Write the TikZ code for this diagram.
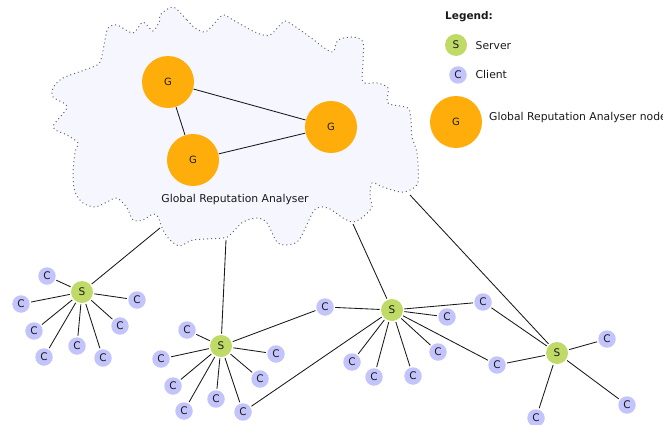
\documentclass[tikz,border=0pt]{standalone}
\usepackage{fontspec}
\setmainfont{DejaVu Sans}
\definecolor{garcol}{HTML}{FFAD0A}
\definecolor{srvcol}{HTML}{C0DA68}
\definecolor{clicol}{HTML}{C4C4FC}
\definecolor{cloudfill}{HTML}{F5F6FE}
\definecolor{txtcol}{HTML}{1A1A1A}
\tikzset{
  gnode/.style={circle,fill=garcol,minimum size=52pt,inner sep=0pt,outer sep=0.5pt,font=\fontsize{10}{12}\selectfont,text=txtcol},
  snode/.style={circle,fill=srvcol,minimum size=22pt,inner sep=0pt,outer sep=1.5pt,font=\fontsize{10.5}{12}\selectfont,text=txtcol},
  cnode/.style={circle,fill=clicol,minimum size=17.5pt,inner sep=0pt,outer sep=1.5pt,font=\fontsize{10.5}{12}\selectfont,text=txtcol},
  link/.style={draw=black!90,line width=0.85pt},
  lbl/.style={font=\fontsize{10.8}{12}\selectfont,text=txtcol,inner sep=0pt},
  cloudline/.style={draw=black!60,line width=1pt,dash pattern=on 1pt off 3pt,fill=cloudfill}
}
\begin{document}
\begin{tikzpicture}[x=1pt,y=-1pt]
\useasboundingbox (0,0) rectangle (663,425);

% the analyser cloud
\path[cloudline] plot[smooth cycle,tension=0.5] coordinates {
(173,7) (187,20) (195,28) (205,32) (213,25) (223,15) (233,20) (257,33) (270,35)
(282,23) (288,22) (310,37) (323,47) (333,52) (338,40) (353,37) (363,42) (363,62)
(363,82) (377,83) (388,88) (387,102) (393,105) (408,108) (411,120) (412,137)
(417,153) (418,182) (410,190) (400,192) (383,187) (372,183) (370,197) (372,207)
(363,217) (353,222) (343,218) (330,209) (320,207) (313,212) (303,233) (297,242)
(287,245) (277,242) (267,223) (258,218) (243,222) (230,235) (223,238) (193,240)
(180,246) (170,240) (163,230) (158,217) (153,214) (143,220) (133,220) (127,208)
(117,198) (107,202) (95,207) (83,203) (75,192) (73,175) (75,152) (78,143) (67,135)
(53,127) (67,107) (53,97) (53,88) (63,78) (90,68) (100,62) (105,40) (108,28)
(117,25) (133,33) (143,22) (153,31) (160,20) (160,15)};

% attachment points on the cloud rim
\coordinate (r1) at (160,228);
\coordinate (r2) at (226,240);
\coordinate (r3) at (353,224);
\coordinate (r4) at (410,195);

% analyser nodes
\node[gnode] (g1) at (168,82) {G};
\node[gnode] (g2) at (193,160) {G};
\node[gnode] (g3) at (331,127) {G};
\node[lbl] (garlabel) at (235,200) {Global Reputation Analyser};

% servers
\node[snode] (s1) at (82,292) {S};
\node[snode] (s2) at (221,346) {S};
\node[snode] (s3) at (392,310) {S};
\node[snode] (s4) at (557,353) {S};

% clients of s1
\node[cnode] (c11) at (47,276) {C};
\node[cnode] (c12) at (21,304) {C};
\node[cnode] (c13) at (34,331) {C};
\node[cnode] (c14) at (44,357) {C};
\node[cnode] (c15) at (77,346) {C};
\node[cnode] (c16) at (103,358) {C};
\node[cnode] (c17) at (120,326) {C};
\node[cnode] (c18) at (137,300) {C};

% clients of s2
\node[cnode] (c21) at (187,330) {C};
\node[cnode] (c22) at (161,359) {C};
\node[cnode] (c23) at (173,386) {C};
\node[cnode] (c24) at (184,411) {C};
\node[cnode] (c25) at (216,399) {C};
\node[cnode] (c26) at (243,412) {C};
\node[cnode] (c27) at (260,379) {C};
\node[cnode] (c28) at (276,354) {C};
\node[cnode] (c29) at (325,307) {C};

% clients of s3
\node[cnode] (c31) at (483,302) {C};
\node[cnode] (c32) at (447,317) {C};
\node[cnode] (c33) at (438,352) {C};
\node[cnode] (c34) at (413,376) {C};
\node[cnode] (c35) at (374,377) {C};
\node[cnode] (c36) at (352,362) {C};
\node[cnode] (c37) at (497,365) {C};

% clients of s4
\node[cnode] (c41) at (607,339) {C};
\node[cnode] (c42) at (627,405) {C};
\node[cnode] (c43) at (536,418) {C};

% links inside the analyser
\draw[link] (g1) -- (g2);
\draw[link] (g1) -- (g3);
\draw[link] (g2) -- (g3);

% servers to the analyser
\draw[link] (s1) -- (r1);
\draw[link] (s2) -- (r2);
\draw[link] (s3) -- (r3);
\draw[link] (s4) -- (r4);

% client links
\foreach \c in {c11,c12,c13,c14,c15,c16,c17,c18} \draw[link] (s1) -- (\c);
\foreach \c in {c21,c22,c23,c24,c25,c26,c27,c28,c29} \draw[link] (s2) -- (\c);
\foreach \c in {c29,c26,c31,c32,c33,c34,c35,c36,c37} \draw[link] (s3) -- (\c);
\foreach \c in {c31,c37,c41,c42,c43} \draw[link] (s4) -- (\c);

% legend
\node[lbl,anchor=west,font=\fontsize{10.5}{12}\selectfont\bfseries] (legtitle) at (445,17) {Legend:};
\node[snode] (legs) at (456,45) {S};
\node[lbl,anchor=west] (legstext) at (475.5,45.5) {Server};
\node[cnode] (legc) at (458,75) {C};
\node[lbl,anchor=west] (legctext) at (475.5,74.5) {Client};
\node[gnode] (legg) at (456,122) {G};
\node[lbl,anchor=west] (leggtext) at (489,117.5) {Global Reputation Analyser node};
\end{tikzpicture}
\end{document}
